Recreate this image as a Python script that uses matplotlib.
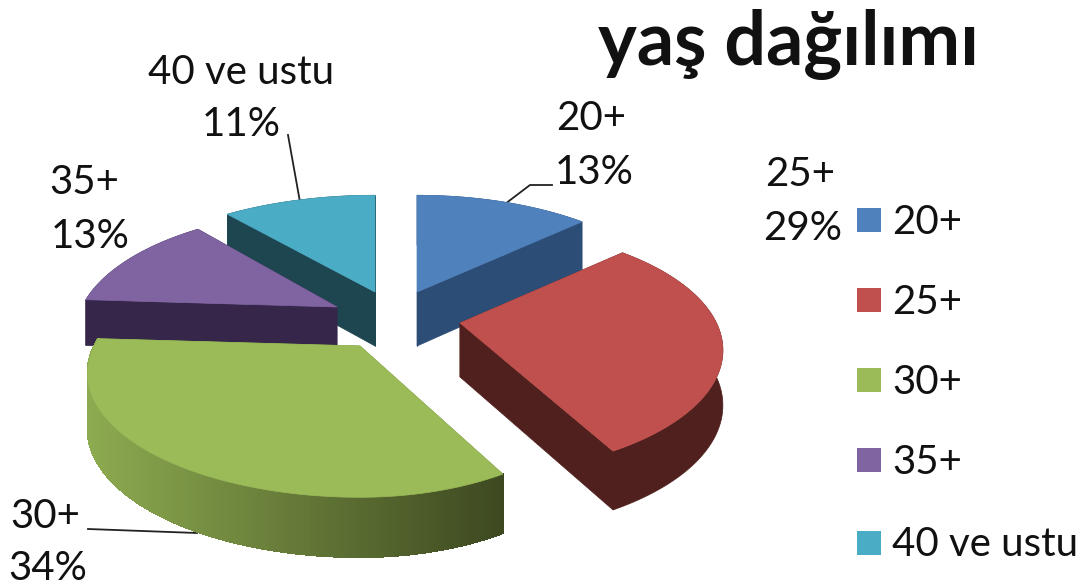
import matplotlib
matplotlib.use("Agg")
import matplotlib.pyplot as plt
from matplotlib.collections import PolyCollection
from matplotlib.colors import to_rgb
from matplotlib.patches import Polygon, Rectangle
import numpy as np

plt.rcParams["font.family"] = ["Lato", "DejaVu Sans"]

categories = ["20+", "25+", "30+", "35+", "40 ve ustu"]
shares = [13, 29, 34, 13, 11]
title = "yaş dağılımı"

top_colors = ["#4f81bd", "#c0504d", "#9bbb59", "#8064a2", "#4bacc6"]
wall_colors = ["#2c4d75", "#4f201d", "#6a8540", "#35264a", "#1d4651"]

# exploded slice tips, in pixels of the 1089x588 picture
apex_x = [417, 460, 360, 337, 375]
apex_y = [292, 323, 346, 307, 292]
draw_order = [4, 0, 3, 1, 2]

# perspective fit of the pie rim
RADIUS_X = 263
RADIUS_Y = 118
TILT = 0.22
DEPTH = 54
# small per-slice corrections to the rim width, right and left of the tip
stretch_right = [0.99, 0.975, 0.91, 1.0, 1.0]
stretch_left = [1.0, 1.0, 1.01, 0.97, 1.03]
depth_scale = [1.0, 1.0, 1.0, 0.85, 1.0]

# label centre positions: (name line, percent line)
label_pos = [
    ((591, 119), (594, 172)),
    ((800, 175), (803, 229)),
    ((45, 517), (48, 569)),
    ((84, 183), (90, 236)),
    ((241, 72), (241, 124)),
]
leaders = [
    ([505, 530, 552], [204, 185, 185]),
    None,
    ([88, 197], [529, 533]),
    None,
    ([288, 300], [135, 202]),
]
legend_y = [220, 300, 380, 460, 543]


def rim(t):
    u, v = np.sin(t), np.cos(t)
    s = 1 / (1 + TILT * v)
    return RADIUS_X * u * s, -RADIUS_Y * v * s, DEPTH * s**0.4


fig = plt.figure(figsize=(10.89, 5.88), dpi=100)
ax = fig.add_axes([0, 0, 1, 1])
ax.set_xlim(0, 1089)
ax.set_ylim(588, 0)
ax.axis("off")

for line in leaders:
    if line is not None:
        ax.plot(line[0], line[1], color="#222222", lw=1.3, zorder=1)

edges = np.radians(np.cumsum([0] + shares) / sum(shares) * 360)
z = 2
for i in draw_order:
    t = np.linspace(edges[i], edges[i + 1], 300)
    dx, dy, d = rim(t)
    d = d * depth_scale[i]
    x = apex_x[i] + np.where(dx > 0, dx * stretch_right[i], dx * stretch_left[i])
    y = apex_y[i] + dy
    wall = wall_colors[i]

    # straight cut faces
    for k in (0, -1):
        face = [(apex_x[i], apex_y[i]), (x[k], y[k]), (x[k], y[k] + d[k]), (apex_x[i], apex_y[i] + DEPTH)]
        ax.add_patch(Polygon(face, closed=True, fc=wall, ec=wall, lw=0.5, zorder=z))

    # outer wall, the green one darkens left to right
    if i == 2:
        strips = [[(x[j], y[j]), (x[j + 1], y[j + 1]), (x[j + 1], y[j + 1] + d[j + 1]), (x[j], y[j] + d[j])] for j in range(len(t) - 1)]
        left, right = np.array(to_rgb("#8dab50")), np.array(to_rgb("#3d4820"))
        pos = (x[:-1] - x.min()) / (x.max() - x.min())
        colors = [left + (right - left) * p for p in pos]
        ax.add_collection(PolyCollection(strips, facecolors=colors, edgecolors=colors, linewidths=1.0, antialiased=False, zorder=z + 0.1))
    else:
        outline = np.column_stack([np.r_[x, x[::-1]], np.r_[y, (y + d)[::-1]]])
        ax.add_patch(Polygon(outline, closed=True, fc=wall, ec=wall, lw=0.5, zorder=z + 0.1))

    top = np.column_stack([np.r_[apex_x[i], x], np.r_[apex_y[i], y]])
    ax.add_patch(Polygon(top, closed=True, fc=top_colors[i], ec=top_colors[i], lw=0.5, zorder=z + 0.2))
    z += 1

for name, share, (p1, p2) in zip(categories, shares, label_pos):
    ax.text(p1[0], p1[1], name, fontsize=29, ha="center", va="center", color="#111111", zorder=20)
    ax.text(p2[0], p2[1], f"{share}%", fontsize=29, ha="center", va="center", color="#111111", zorder=20)

for name, color, ly in zip(categories, top_colors, legend_y):
    ax.add_patch(Rectangle((857, ly - 12), 24, 24, fc=color, ec="none", zorder=20))
    ax.text(892, ly + 2, name, fontsize=29, ha="left", va="center", color="#111111", zorder=20)

ax.text(788, 45, title, fontsize=53, fontweight="bold", ha="center", va="center", color="#111111", zorder=20)

fig.savefig("out.png", dpi=100)
plt.close()
